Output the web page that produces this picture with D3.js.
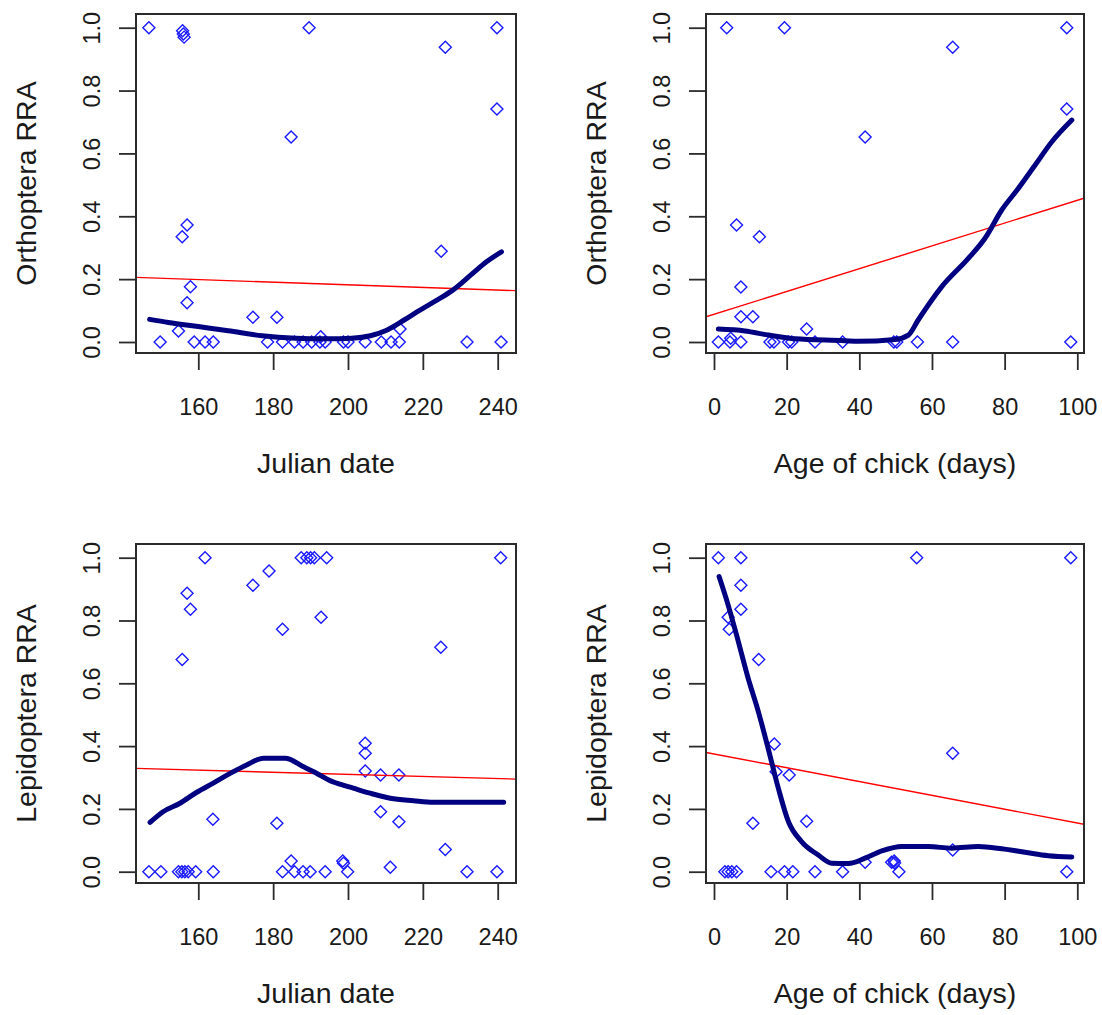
<!DOCTYPE html>
<html><head><meta charset="utf-8">
<script src="https://cdn.jsdelivr.net/npm/d3@7"></script>
<style>
html,body{margin:0;padding:0;background:#fff;}
svg{display:block;font-family:"Liberation Sans",Arial,sans-serif;}
</style></head>
<body>
<svg id="chart" width="1102" height="1015"></svg>
<script>
// ---------- Data ----------
const julianTicks = [160, 180, 200, 220, 240];
const ageTicks = [0, 20, 40, 60, 80, 100];
const yTicks = [0, 0.2, 0.4, 0.6, 0.8, 1.0];

// Orthoptera RRA vs Julian date
const orthoJulianX = [146.8,155.8,156,156.2,189.6,184.8,157,155.7,157.9,157,174.6,181,154.7,149.8,158.9,161.8,164,178.5,182.5,185.7,188,190.3,192.7,193.9,192.5,198.8,200,204.6,208.9,211.5,213.7,213.9,224.9,226,231.8,239.8,239.8,240.9];
const orthoJulianY = [1.0,0.99,0.98,0.97,1.0,0.652,0.372,0.335,0.176,0.125,0.079,0.079,0.035,0,0,0,0,0,0,0,0,0,0.017,0,0,0,0,0,0,0,0,0.041,0.289,0.938,0,1.0,0.741,0];
const orthoJulianLowX = [147,152,160,168,177,186,194,201,206,210,215,219,224,228,233,237,241];
const orthoJulianLowY = [0.072,0.062,0.049,0.036,0.02,0.012,0.01,0.012,0.02,0.036,0.07,0.1,0.135,0.165,0.215,0.255,0.287];
const orthoJulianFit = [0.265, -0.000415]; // intercept, slope

// Orthoptera RRA vs Age of chick
const orthoAgeX = [3.5,19.4,41.6,6.2,12.5,7.4,7.4,10.7,25.5,1.2,4.4,4.6,7.4,15.4,16.5,20.5,21.4,27.8,35.4,49.5,50.3,56,65.7,65.7,97.1,97.1,98.2];
const orthoAgeY = [1.0,1.0,0.652,0.372,0.335,0.175,0.08,0.08,0.041,0,0,0.012,0,0,0,0,0,0,0,0,0,0,0,0.938,1.0,0.741,0];
const orthoAgeLowX = [1.2,8.5,15,22.3,36,39.6,49.8,53.5,56.2,62.7,70,74.6,79.2,83.8,88.4,93,98.5];
const orthoAgeLowY = [0.041,0.035,0.022,0.01,0.004,0.002,0.008,0.022,0.07,0.176,0.266,0.33,0.42,0.489,0.563,0.637,0.706];
const orthoAgeFit = [0.088, 0.00363];

// Lepidoptera RRA vs Julian date
const lepiJulianX = [161.8,157,157.9,155.7,174.6,178.9,182.5,187.5,189,190,191,194.3,192.8,163.9,181,184.8,146.8,150,154.7,155.6,156.4,157.3,159.3,164,182.5,185.7,188,189.9,193.9,240.8,224.8,204.6,204.6,204.6,208.7,213.6,208.7,213.6,226,198.6,198.8,199.9,211.3,231.8,239.8];
const lepiJulianY = [1.0,0.887,0.836,0.676,0.912,0.958,0.772,1.0,1.0,1.0,1.0,1.0,0.81,0.167,0.154,0.034,0,0,0,0,0,0,0,0,0,0,0,0,0,1.0,0.715,0.409,0.377,0.321,0.308,0.308,0.191,0.159,0.071,0.034,0.027,0,0.014,0,0];
const lepiJulianLowX = [147.1,150.6,155.1,159.6,164,168.5,172.9,177.4,183.2,188.1,191.7,195.2,197,201.4,205.9,211.3,217.5,222.8,232.6,241.6];
const lepiJulianLowY = [0.157,0.191,0.218,0.253,0.282,0.313,0.34,0.361,0.361,0.334,0.313,0.29,0.282,0.266,0.25,0.234,0.226,0.221,0.221,0.221];
const lepiJulianFit = [0.377, -0.000335];

// Lepidoptera RRA vs Age of chick
const lepiAgeX = [1.2,7.4,7.4,7.4,3.9,4.2,12.3,16.6,17.1,20.7,10.7,25.5,41.6,48.9,3,3.9,4.9,6.2,15.7,19.4,21.7,27.8,35.4,55.8,98.2,65.7,65.7,49.6,49.7,50.9,97.1];
const lepiAgeY = [1.0,1.0,0.912,0.836,0.81,0.772,0.676,0.407,0.318,0.308,0.154,0.161,0.03,0.03,0,0,0,0,0,0,0,0,0,1.0,1.0,0.377,0.069,0.034,0.028,0,0];
const lepiAgeLowX = [1.4,3.9,6.2,9.4,12.2,14.9,17.7,20.5,24.1,28.7,32.4,37,41.6,46.2,51.7,59,65.4,72.7,79.2,85.6,92,98.5];
const lepiAgeLowY = [0.94,0.849,0.754,0.616,0.51,0.393,0.266,0.159,0.096,0.053,0.027,0.026,0.043,0.066,0.08,0.08,0.075,0.08,0.073,0.062,0.051,0.047];
const lepiAgeFit = [0.375, -0.0022];

const xTitles = ["Julian date", "Age of chick (days)"];
const yTitles = ["Orthoptera RRA", "Lepidoptera RRA"];

// ---------- Layout ----------
const cols = [
  {left:136, right:516, ticks:julianTicks, t0:160, t1:240, p0:198.3, p1:497.7},
  {left:706, right:1084, ticks:ageTicks, t0:0, t1:100, p0:714, p1:1077.3}
];
const rows = [
  {top:14, bottom:353, y0:342, y1:27.7},
  {top:544, bottom:883, y0:871.7, y1:557.7}
];

const panels = [
  {r:0,c:0,px:orthoJulianX,py:orthoJulianY,lx:orthoJulianLowX,ly:orthoJulianLowY,fit:orthoJulianFit},
  {r:0,c:1,px:orthoAgeX,py:orthoAgeY,lx:orthoAgeLowX,ly:orthoAgeLowY,fit:orthoAgeFit},
  {r:1,c:0,px:lepiJulianX,py:lepiJulianY,lx:lepiJulianLowX,ly:lepiJulianLowY,fit:lepiJulianFit},
  {r:1,c:1,px:lepiAgeX,py:lepiAgeY,lx:lepiAgeLowX,ly:lepiAgeLowY,fit:lepiAgeFit}
];

const svg = d3.select("#chart");
const axisColor = "#2b2b2b";
const textColor = "#1a1a1a";

panels.forEach((p, i) => {
  const C = cols[p.c], R = rows[p.r];
  const x = d3.scaleLinear().domain([C.t0, C.t1]).range([C.p0, C.p1]);
  const y = d3.scaleLinear().domain([0, 1]).range([R.y0, R.y1]);
  const g = svg.append("g");

  const clipId = "clip" + i;
  svg.append("clipPath").attr("id", clipId).append("rect")
    .attr("x", C.left).attr("y", R.top)
    .attr("width", C.right - C.left).attr("height", R.bottom - R.top);

  // points (diamonds)
  const pts = p.px.map((v, k) => [v, p.py[k]]);
  const dsz = 6;
  g.append("g").selectAll("path").data(pts).enter().append("path")
    .attr("d", d => {
      const cx = x(d[0]), cy = y(d[1]);
      return `M${cx},${cy-dsz}L${cx+dsz},${cy}L${cx},${cy+dsz}L${cx-dsz},${cy}Z`;
    })
    .attr("fill", "none").attr("stroke", "#1a1aff").attr("stroke-width", 1.4);

  // linear fit (abline)
  const xa = x.invert(C.left), xb = x.invert(C.right);
  const f = v => p.fit[0] + p.fit[1] * v;
  g.append("line").attr("clip-path", `url(#${clipId})`)
    .attr("x1", x(xa)).attr("y1", y(f(xa)))
    .attr("x2", x(xb)).attr("y2", y(f(xb)))
    .attr("stroke", "#ff0000").attr("stroke-width", 1.4);

  // lowess curve
  const low = p.lx.map((v, k) => [v, p.ly[k]]);
  g.append("path").datum(low)
    .attr("d", d3.line().x(d => x(d[0])).y(d => y(d[1])).curve(d3.curveMonotoneX))
    .attr("fill", "none").attr("stroke", "#000080").attr("stroke-width", 5)
    .attr("stroke-linecap", "round").attr("stroke-linejoin", "round");

  // x axis
  const xAxis = g.append("g").attr("transform", `translate(0,${R.bottom})`)
    .call(d3.axisBottom(x).tickValues(C.ticks).tickSize(17).tickFormat(d3.format("d")));
  xAxis.select(".domain").remove();
  xAxis.selectAll(".tick line").attr("stroke", axisColor).attr("stroke-width", 1.8);
  xAxis.selectAll(".tick text").attr("y", 62).attr("dy", 0)
    .attr("font-size", 23.5).attr("fill", textColor)
    .attr("font-family", "'Liberation Sans', Arial, sans-serif");

  // y axis
  const yAxis = g.append("g").attr("transform", `translate(${C.left},0)`)
    .call(d3.axisLeft(y).tickValues(yTicks).tickSize(17).tickFormat(d3.format(".1f")));
  yAxis.select(".domain").remove();
  yAxis.selectAll(".tick line").attr("stroke", axisColor).attr("stroke-width", 1.8);
  yAxis.selectAll(".tick text").attr("x", null).attr("dy", null)
    .attr("transform", "translate(-36,0) rotate(-90)")
    .attr("text-anchor", "middle")
    .attr("font-size", 23.5).attr("fill", textColor)
    .attr("font-family", "'Liberation Sans', Arial, sans-serif");

  // box
  g.append("rect").attr("x", C.left).attr("y", R.top)
    .attr("width", C.right - C.left).attr("height", R.bottom - R.top)
    .attr("fill", "none").attr("stroke", axisColor).attr("stroke-width", 2);

  // titles
  g.append("text").attr("x", (C.left + C.right) / 2).attr("y", R.bottom + 120)
    .attr("text-anchor", "middle").attr("font-size", 28.5).attr("fill", textColor)
    .text(xTitles[p.c]);
  const cy = (R.top + R.bottom) / 2;
  g.append("text").attr("transform", `translate(${C.left - 100},${cy}) rotate(-90)`)
    .attr("text-anchor", "middle").attr("font-size", 28.5).attr("fill", textColor)
    .text(yTitles[p.r]);
});
</script>
</body></html>
